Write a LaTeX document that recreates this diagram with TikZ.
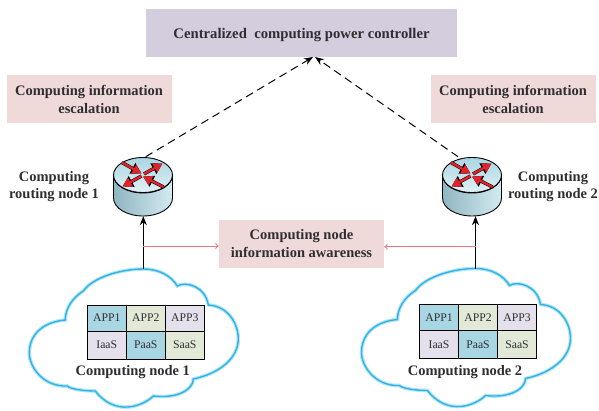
\documentclass[tikz,border=0pt]{standalone}
\usepackage{fontspec}
\setmainfont{Liberation Serif}
\usetikzlibrary{arrows.meta}
\definecolor{ctrlpurple}{HTML}{D3CDDD}
\definecolor{notepink}{HTML}{EFD9D9}
\definecolor{cellblue}{HTML}{A9D6E3}
\definecolor{cellgreen}{HTML}{E3E9D7}
\definecolor{celllilac}{HTML}{E4E0EC}
\definecolor{cloudblue}{HTML}{2FB4E4}
\definecolor{arrowpink}{HTML}{F0787C}
\definecolor{arrowred}{HTML}{E3222B}
\definecolor{textgray}{HTML}{2E2E30}
\tikzset{
	notebox/.style={fill=notepink, text=textgray, font=\bfseries\fontsize{14.5}{18}\selectfont, align=center, inner sep=0pt},
	cell/.style={draw=black, line width=0.7pt, minimum width=39pt, minimum height=#1, inner sep=0pt, font=\fontsize{11.7}{13}\selectfont, text=textgray},
	nodelabel/.style={font=\bfseries\fontsize{14.5}{17}\selectfont, text=textgray, align=center}
}
% #1 = x, #2 = y of the top of the router body, #3 = name
\def\routericon(#1,#2)#3{
	\begin{scope}[shift={(#1,#2)}]
		\shade[left color=cellblue!85!black, right color=cellblue!50, draw=black, line width=0.9pt]
			(-29.5,18) -- (-29.5,41) arc (180:0:29.5 and 18) -- (29.5,18) arc (0:180:29.5 and 18) -- cycle;
		\shade[top color=cellblue, bottom color=cellblue!35, draw=black, line width=0.9pt] (0,18) ellipse (29.5 and 17.5);
		\foreach \ax/\ay/\bx/\by in {-21/5.5/-1.5/16.5, 1/17/19.5/6.5, -1.5/19/-20.5/29.5, 20.5/30/0/19.5}{
			\draw[black, line width=3.4pt, -{Triangle[length=10.5pt,width=11.5pt]}] (\ax,\ay) -- (\bx,\by);
			\draw[arrowred, line width=2.4pt, -{Triangle[length=9pt,width=9.5pt]}] (\ax,\ay) -- (\bx,\by);
		}
		\node[minimum width=59pt, minimum height=59pt, inner sep=0pt] (#3) at (0,29.5) {};
	\end{scope}
}
% #1 = x, #2 = y of the top of the cloud, #3 = number
\def\cloudnode(#1,#2)#3{
	\begin{scope}[shift={(#1,#2)}]
		\def\cloudpath{(0,0) .. controls (16,0) and (28,7) .. (34,17)
			.. controls (42,12) and (62,17) .. (65,36)
			.. controls (85,37) and (95,55) .. (95,70)
			.. controls (95,88) and (78,104) .. (50,110)
			.. controls (50,120) and (35,130) .. (10,127)
			.. controls (0,137) and (-28,148) .. (-48,122)
			.. controls (-60,122) and (-73,120) .. (-76,117)
			.. controls (-100,118) and (-114,98) .. (-114,84)
			.. controls (-114,66) and (-101,53) .. (-78,51)
			.. controls (-78,35) and (-65,25) .. (-60,22)
			.. controls (-50,8) and (-22,0) .. (0,0) -- cycle}
		\draw[cloudblue!35, line width=3.6pt, fill=white] \cloudpath;
		\draw[cloudblue, line width=1.4pt] \cloudpath;
		\coordinate (cloudtop#3) at (0,0);
		\foreach \cname/\cx/\cy/\ccol/\ctext/\chgt in {
			a/-36.5/49/cellblue/APP1/26pt, b/2.5/49/cellgreen/APP2/26pt, c/41.5/49/celllilac/APP3/26pt,
			d/-36.5/76/celllilac/IaaS/28pt, e/2.5/76/cellblue/PaaS/28pt, f/41.5/76/cellgreen/SaaS/28pt}{
			\node[cell=\chgt, fill=\ccol] (cell#3\cname) at (\cx,\cy) {\ctext};
		}
		\node[nodelabel] (cloudname#3) at (-10.5,103.5) {Computing node #3};
	\end{scope}
}

\begin{document}
\begin{tikzpicture}[x=1pt,y=-1pt]
	\useasboundingbox (0,0) rectangle (599,410);

	\node[fill=ctrlpurple, text=textgray, font=\bfseries\fontsize{14.7}{17}\selectfont, minimum width=311pt, minimum height=48pt, inner sep=0pt, text depth=0pt] (ctrl) at (301.5,33) {Centralized\ \ computing power controller};
	\coordinate (ctrlleft) at (313,57);
	\coordinate (ctrlright) at (315,57);

	\node[notebox, minimum width=165pt, minimum height=48pt] (esc1) at (89,99) {Computing information\\escalation};
	\node[notebox, minimum width=165pt, minimum height=48pt] (esc2) at (513,99) {Computing information\\escalation};
	\node[notebox, minimum width=165pt, minimum height=48pt] (aware) at (301.5,244) {Computing node\\information awareness};

	\routericon(143,157){router1}
	\routericon(472,157){router2}

	\node[nodelabel] (routername1) at (54,186.5) {Computing\\routing node 1};
	\node[nodelabel] (routername2) at (553,186.5) {Computing\\routing node 2};

	\cloudnode(143.3,269){1}
	\cloudnode(475.5,268.5){2}

	\draw[line width=1pt, dash pattern=on 8pt off 5pt, -{Stealth[length=9pt,width=7pt]}] (router1.85) -- (ctrlleft);
	\draw[line width=1pt, dash pattern=on 8pt off 5pt, -{Stealth[length=9pt,width=7pt]}] (router2.115) -- (ctrlright);

	\draw[line width=1.1pt, -{Stealth[length=9pt,width=7pt]}] (cloudtop1) -- (cloudtop1 |- router1.south);
	\draw[line width=1.1pt, -{Stealth[length=9pt,width=7pt]}] (cloudtop2) -- (cloudtop2 |- router2.south);

	\coordinate (tap1) at (143.3,246);
	\coordinate (tap2) at (475.5,246.7);
	\draw[arrowpink, line width=0.8pt, -{To[length=3.5pt,width=6pt]}] (tap1) -- (aware.west |- tap1);
	\draw[arrowpink, line width=0.8pt, -{To[length=3.5pt,width=6pt]}] (tap2) -- (aware.east |- tap2);
\end{tikzpicture}
\end{document}
